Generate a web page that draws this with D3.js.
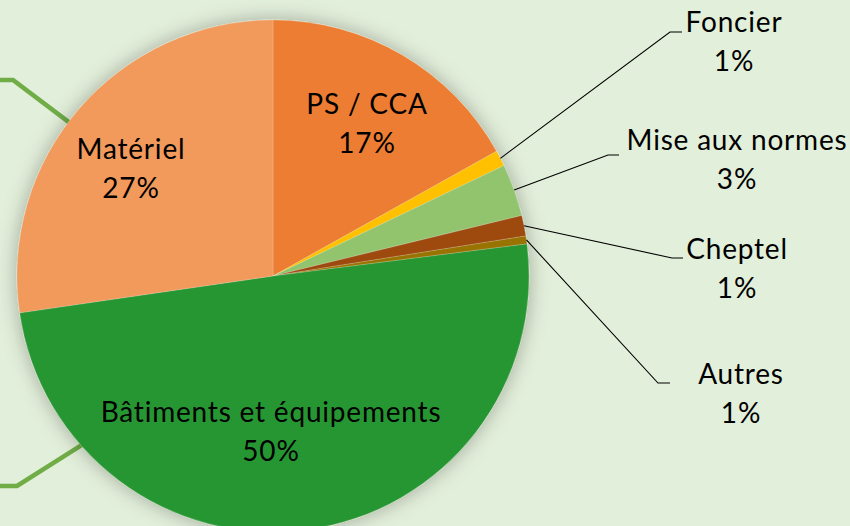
<!DOCTYPE html>
<meta charset="utf-8">
<style>
body { margin: 0; background: #e2efda; }
svg { display: block; }
.lbl { font-family: Lato, "Open Sans", sans-serif; font-size: 28px; letter-spacing: 0.8px; fill: #000; text-anchor: middle; }
</style>
<svg width="850" height="526"></svg>
<script src="https://d3js.org/d3.v7.min.js"></script>
<script>

// les données
var categories = ["PS / CCA", "Foncier", "Mise aux normes", "Cheptel", "Autres", "Bâtiments et équipements", "Matériel"];
var valeurs = [16.9, 1.0, 3.3, 1.3, 0.5, 49.7, 27.3];
var etiquettes = ["17%", "1%", "3%", "1%", "1%", "50%", "27%"];
var couleurs = ["#ed7d31", "#ffc000", "#92c46e", "#9e480e", "#997300", "#289631", "#f2995c"];

var svg = d3.select("svg"),
    width = +svg.attr("width"),
    height = +svg.attr("height");

var cx = 273, cy = 276, r = 256;

// ombre autour du camembert
var defs = svg.append("defs");
var f = defs.append("filter").attr("id", "ombre")
    .attr("x", "-20%").attr("y", "-20%").attr("width", "140%").attr("height", "140%");
f.append("feDropShadow").attr("dx", 0).attr("dy", 0).attr("stdDeviation", 10)
    .attr("flood-color", "#000").attr("flood-opacity", 0.3);

var donnees = categories.map((c, i) => ({nom: c, val: valeurs[i], pct: etiquettes[i], col: couleurs[i]}));

var pie = d3.pie().sort(null).value(d => d.val);
var arcs = pie(donnees);
var arc = d3.arc().innerRadius(0).outerRadius(r);

function surBord(a, rr) {
  return [cx + rr * Math.sin(a), cy - rr * Math.cos(a)];
}

// lignes vertes décoratives à gauche (angles en degrés, coin, fin)
var lignesVertes = [
  {angle: 307, coude: [13, 80], fin: [0, 80]},
  {angle: 228.5, coude: [17, 486], fin: [0, 486]}
];
svg.append("g").selectAll("path")
  .data(lignesVertes)
  .enter().append("path")
    .attr("fill", "none")
    .attr("stroke", "#70ad47")
    .attr("stroke-width", 4.5)
    .attr("d", d => d3.line()([surBord(d.angle * Math.PI / 180, r - 2), d.coude, d.fin]));

var g = svg.append("g").attr("transform", "translate(" + cx + "," + cy + ")");
g.append("g").attr("filter", "url(#ombre)")
  .selectAll("path")
  .data(arcs)
  .enter().append("path")
    .attr("d", arc)
    .attr("fill", d => d.data.col)
    .attr("stroke", "rgba(255,255,255,0.25)")
    .attr("stroke-width", 0.7);

// positions des étiquettes (ligne 1 : ligne de base)
var positions = {
  "PS / CCA": {x: 367, y: 114},
  "Matériel": {x: 131, y: 159},
  "Bâtiments et équipements": {x: 271, y: 422},
  "Foncier": {x: 734, y: 32, coude: [670, 32], bout: [682, 32]},
  "Mise aux normes": {x: 737, y: 150, coude: [608, 155], bout: [619, 155]},
  "Cheptel": {x: 737, y: 259, coude: [672, 258], bout: [683, 258]},
  "Autres": {x: 741, y: 384, coude: [658, 383], bout: [670, 383]}
};

// lignes de rappel
arcs.forEach(a => {
  var p = positions[a.data.nom];
  if (!p.coude) return;
  var m = (a.startAngle + a.endAngle) / 2;
  svg.append("path")
    .attr("fill", "none")
    .attr("stroke", "#000")
    .attr("stroke-width", 1.1)
    .attr("d", d3.line()([surBord(m, r), p.coude, p.bout]));
});

// étiquettes
arcs.forEach(a => {
  var p = positions[a.data.nom];
  var t = svg.append("text").attr("class", "lbl");
  t.append("tspan").attr("x", p.x).attr("y", p.y).text(a.data.nom);
  t.append("tspan").attr("x", p.x).attr("y", p.y + 38.5).text(a.data.pct);
});

</script>
